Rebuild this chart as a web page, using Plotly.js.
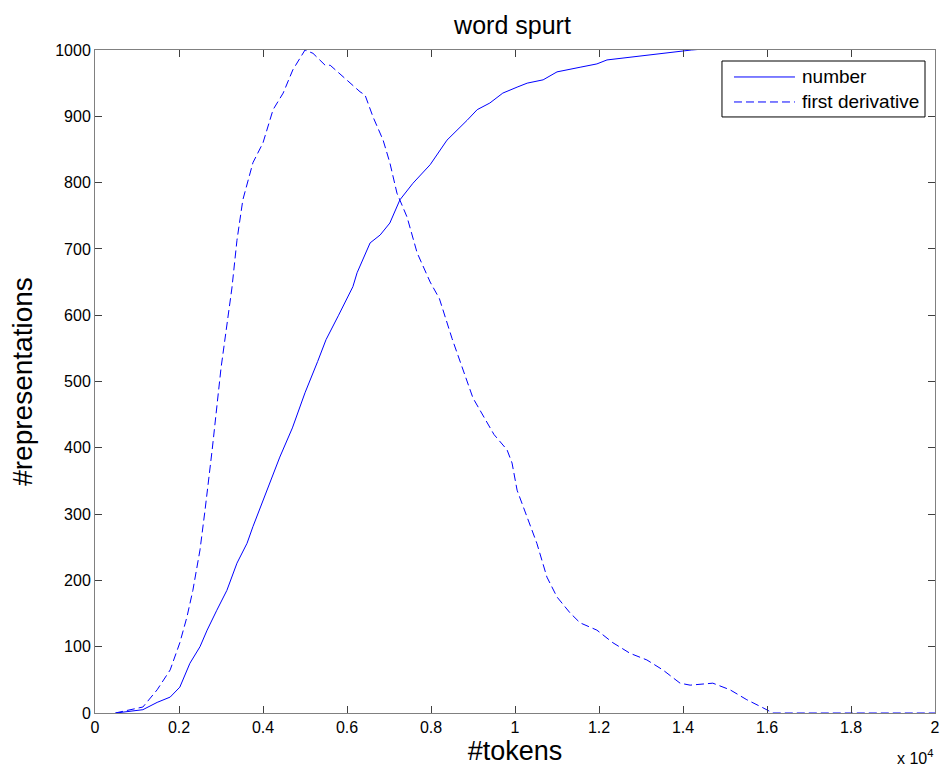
<!DOCTYPE html>
<html>
<head>
<meta charset="utf-8">
<script src="https://cdn.plot.ly/plotly-3.0.1.min.js"></script>
<style>html,body{margin:0;padding:0;background:#fff;}#chart{width:940px;height:767px;}</style>
</head>
<body>
<div id="chart"></div>
<script>
// x in units of 10^4 tokens
var xNumber = [0.05,0.083,0.114,0.148,0.179,0.202,0.226,0.25,0.267,0.29,0.314,0.338,0.362,0.376,0.40,0.421,0.44,0.47,0.5,0.53,0.55,0.58,0.614,0.624,0.655,0.679,0.702,0.726,0.757,0.798,0.838,0.886,0.91,0.94,0.971,1.005,1.029,1.067,1.1,1.155,1.195,1.219,1.274,1.352,1.393,1.42,1.5,1.6,2.0];
var yNumber = [0,3,5,16,24,39,75,100,125,155,185,226,256,281,321,356,386,430,483,530,563,600,643,664,709,721,739,774,799,827,864,894,910,920,935,944,950,955,967,974,979,985,989,994,997,1000,1004,1006,1006];

var xDeriv = [0.048,0.114,0.148,0.179,0.202,0.219,0.233,0.25,0.262,0.279,0.30,0.326,0.338,0.352,0.376,0.40,0.424,0.448,0.471,0.5,0.519,0.548,0.56,0.6,0.631,0.643,0.662,0.686,0.702,0.719,0.743,0.767,0.798,0.82,0.85,0.9,0.95,0.981,0.993,1.005,1.029,1.052,1.076,1.1,1.131,1.155,1.195,1.233,1.274,1.314,1.352,1.393,1.417,1.471,1.512,1.552,1.59,1.614,2.0];
var yDeriv = [0,9,35,65,106,145,185,246,306,397,520,641,713,774,830,860,910,935,970,1000,995,977,977,955,937,932,899,864,830,784,748,694,650,625,565,475,420,397,377,336,296,256,205,175,151,136,125,106,90,80,65,45,42,45,35,20,8,0,0];

var tickVals = [0,0.2,0.4,0.6,0.8,1,1.2,1.4,1.6,1.8,2];
var tickText = ['0','0.2','0.4','0.6','0.8','1','1.2','1.4','1.6','1.8','2'];
var yTickVals = [0,100,200,300,400,500,600,700,800,900,1000];
var seriesNames = ['number', 'first derivative'];

var font = 'Liberation Sans, Arial, sans-serif';
var blue = 'rgb(0,0,255)';
var dashPattern = '8px,4px';
var traces = [
  {x: xNumber, y: yNumber, mode: 'lines', name: seriesNames[0], showlegend: false,
   line: {color: blue, width: 1}},
  {x: xDeriv, y: yDeriv, mode: 'lines', name: seriesNames[1], showlegend: false,
   line: {color: blue, width: 1, dash: dashPattern}}
];

// legend drawn in paper coordinates (matches MATLAB-style legend box)
var lgX0 = 0.7464, lgX1 = 0.9881, lgY0 = 0.899, lgY1 = 0.9834;
var smpX0 = 0.7607, smpX1 = 0.8333, txtX = 0.8393;
var rowY = [0.9593, 0.9216];
var shapes = [
  {type: 'rect', xref: 'paper', yref: 'paper', x0: lgX0, x1: lgX1, y0: lgY0, y1: lgY1,
   line: {color: '#000', width: 1}, fillcolor: '#fff', layer: 'above'},
  {type: 'line', xref: 'paper', yref: 'paper', x0: smpX0, x1: smpX1, y0: rowY[0], y1: rowY[0],
   line: {color: blue, width: 1}, layer: 'above'},
  {type: 'line', xref: 'paper', yref: 'paper', x0: smpX0, x1: smpX1, y0: rowY[1], y1: rowY[1],
   line: {color: blue, width: 1, dash: dashPattern}, layer: 'above'}
];
var annotations = [
  {text: seriesNames[0], xref: 'paper', yref: 'paper', x: txtX, y: rowY[0], xanchor: 'left', yanchor: 'middle',
   showarrow: false, font: {size: 19}},
  {text: seriesNames[1], xref: 'paper', yref: 'paper', x: txtX, y: rowY[1], xanchor: 'left', yanchor: 'middle',
   showarrow: false, font: {size: 19}},
  {text: 'x 10<sup>4</sup>', xref: 'paper', yref: 'paper', x: 1, y: -0.066, xanchor: 'right', yanchor: 'middle',
   showarrow: false, font: {size: 16}}
];

var layout = {
  width: 940, height: 767,
  margin: {l: 95, r: 5, t: 50, b: 54},
  paper_bgcolor: '#fff', plot_bgcolor: '#fff',
  font: {family: font, color: '#000', size: 16},
  title: {text: 'word spurt', font: {size: 25, family: font}, x: 0.497, xanchor: 'center', xref: 'paper', y: 0.967, yanchor: 'middle'},
  xaxis: {range: [0, 2], tickvals: tickVals, ticktext: tickText, ticks: 'inside', ticklen: 7,
    tickcolor: '#404040', showline: true, linecolor: '#808080', mirror: 'ticks', showgrid: false, zeroline: false,
    tickfont: {size: 16}, automargin: false,
    title: {text: '#tokens', font: {size: 27}, standoff: 4}},
  yaxis: {range: [0, 1000], tickvals: yTickVals, ticks: 'inside', ticklen: 7,
    tickcolor: '#404040', showline: true, linecolor: '#808080', mirror: 'ticks', showgrid: false, zeroline: false,
    tickfont: {size: 16}, automargin: false,
    title: {text: '#representations', font: {size: 28}, standoff: 14}},
  showlegend: false,
  shapes: shapes,
  annotations: annotations
};
Plotly.newPlot('chart', traces, layout, {displayModeBar: false, staticPlot: true});
</script>
</body>
</html>
